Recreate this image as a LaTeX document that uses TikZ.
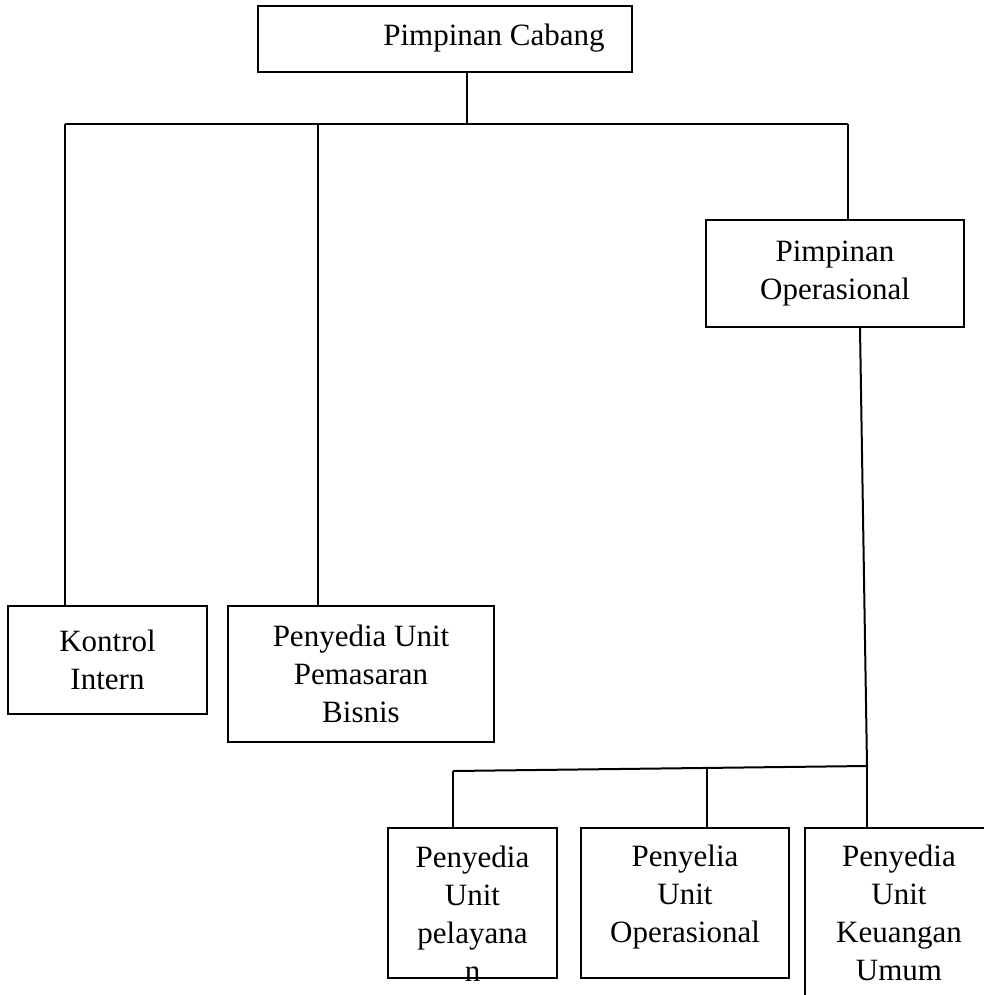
\documentclass[tikz,border=0pt]{standalone}
\usepackage{fontspec}
\setmainfont{Liberation Serif}
\begin{document}
\begin{tikzpicture}[
                x = 0.5pt, y = -0.5pt,
                txt/.style = {align = center, inner sep = 0mm, font = \fontsize{15.5}{19}\selectfont},
                box/.style = {txt, draw, line width = 1pt, rectangle},
                link/.style = {draw, line width = 1pt},
            ]
            \useasboundingbox (0, 0) rectangle (984, 995);

            \node (PC) at (445, 39) [box, minimum width = 187pt, minimum height = 33pt] {};
            \node (PCt) at (494, 38) [txt] {Pimpinan Cabang};

            \coordinate (J1) at (467, 124);
            \coordinate (JL) at (65, 124);
            \coordinate (JM) at (318, 124);
            \coordinate (JR) at (848, 124);

            \node (KI) at (107.5, 660) [box, minimum width = 99.5pt, minimum height = 54pt] {Kontrol\\Intern};
            \node (PB) at (361, 674) [box, minimum width = 133pt, minimum height = 68pt] {Penyedia Unit\\Pemasaran\\Bisnis};
            \node (PO) at (835, 273.5) [box, minimum width = 129pt, minimum height = 53.5pt] {Pimpinan\\Operasional};

            \coordinate (J2) at (867, 766);
            \coordinate (JP) at (453, 771);
            \coordinate (JU) at (707, 768);

            \node (PP) at (472.5, 903) [box, minimum width = 84.5pt, minimum height = 75pt] {};
            \node (PPt) at (472.5, 914) [txt] {Penyedia\\Unit\\pelayana\\n};
            \node (PU) at (685, 903) [box, minimum width = 104pt, minimum height = 75pt] {};
            \node (PUt) at (685, 897) [txt] {Penyelia\\Unit\\Operasional};
            \node (PK) at (899, 913) [box, minimum width = 94pt, minimum height = 85pt] {Penyedia\\Unit\\Keuangan\\Umum};

            \path[link] (J1 |- PC.south) -- (J1);
            \path[link] (JL) -- (JR);
            \path[link] (JL) -- (JL |- KI.north);
            \path[link] (JM) -- (JM |- PB.north);
            \path[link] (JR) -- (JR |- PO.north);

            \path[link] ([xshift = 12.5pt] PO.south) -- (J2);
            \path[link] (JP) -- (J2);
            \path[link] (J2) -- (J2 |- PK.north);
            \path[link] (JP) -- (JP |- PP.north);
            \path[link] (JU) -- (JU |- PU.north);
        \end{tikzpicture}
\end{document}
